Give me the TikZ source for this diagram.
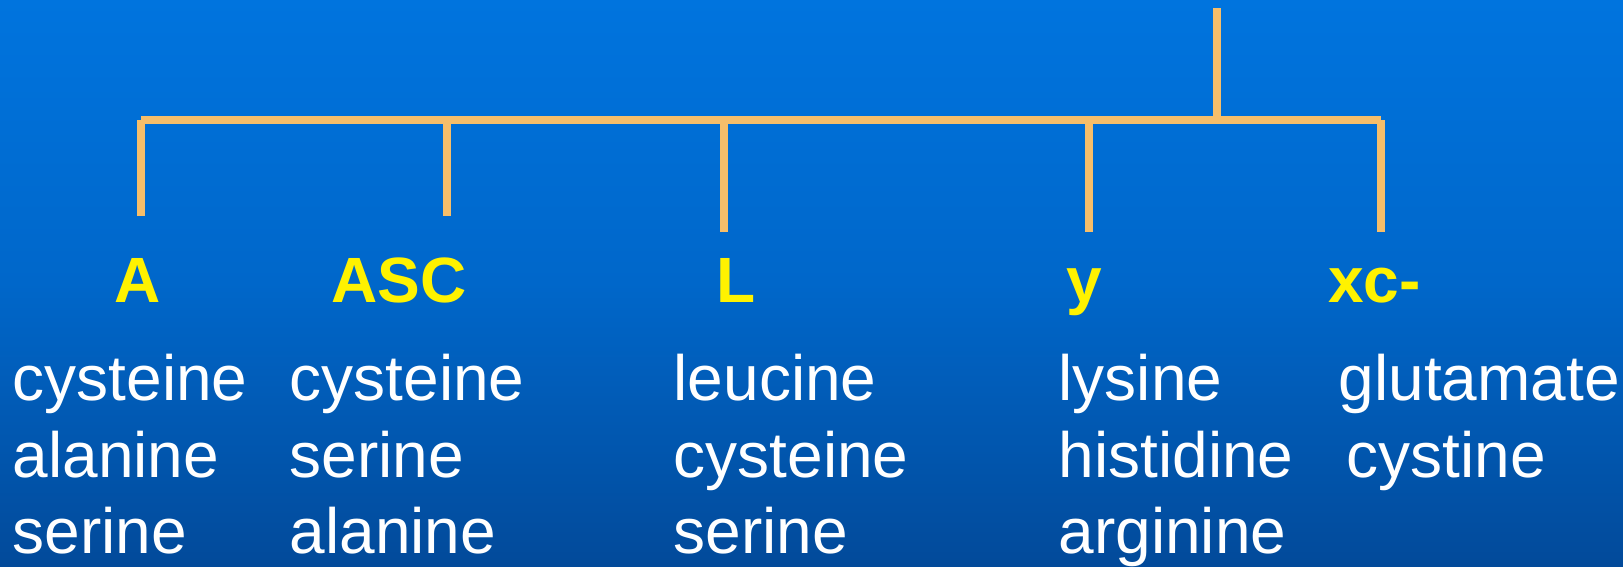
\documentclass[tikz,border=0pt]{standalone}
\usepackage{fontspec}
\setmainfont{Liberation Sans}
\usetikzlibrary{positioning}

\definecolor{bartan}{RGB}{246,190,106}
\definecolor{bgtop}{RGB}{0,116,222}
\definecolor{bgmid}{RGB}{0,103,202}
\definecolor{bgbot}{RGB}{2,74,154}
\pgfdeclareverticalshading{slidebg}{100bp}{color(0bp)=(bgbot); color(25bp)=(bgbot); color(50bp)=(bgmid); color(75bp)=(bgtop); color(100bp)=(bgtop)}

\begin{document}
\begin{tikzpicture}[x=1pt,y=-1pt,
    bar/.style={draw=bartan, line width=8pt},
    family/.style={font=\fontsize{64}{64}\selectfont\bfseries, text=yellow, inner sep=0pt, anchor=base west},
    acid/.style={font=\fontsize{64}{64}\selectfont, text=white, inner sep=0pt, anchor=base west}]
    \shade[shading=slidebg] (0,0) rectangle (1623,566);
    \useasboundingbox (0,0) rectangle (1623,566);

    % tree
    \coordinate (top) at (1217,8);
    \coordinate (hub) at (1217,120);
    \coordinate (barL) at (141,120);
    \coordinate (barR) at (1381,120);
    \coordinate (ta) at (141,216);
    \coordinate (tasc) at (447,216);
    \coordinate (tl) at (724,232);
    \coordinate (ty) at (1089,232);
    \coordinate (txc) at (1381,232);

    \draw[bar] (barL) -- (barR);
    \draw[bar] (top) -- (hub);
    \foreach \t in {ta,tasc,tl,ty,txc}
        \draw[bar] (\t |- hub) -- (\t);

    % transporter systems
    \node[family] (fa) at (114,302) {A};
    \node[family] (fasc) at (331,302) {ASC};
    \node[family] (fl) at (716,302) {L};
    \node[family] (fy) at (1066,302) {y};
    \node[family] (fxc) at (1328,302) {xc-};

    % substrates
    \node[acid] (a1) at (12.5,400) {cysteine};
    \node[acid] (a2) at (12.5,477) {alanine};
    \node[acid] (a3) at (12.5,553) {serine};

    \node[acid] (asc1) at (289.5,400) {cysteine};
    \node[acid] (asc2) at (289.5,477) {serine};
    \node[acid] (asc3) at (289.5,553) {alanine};

    \node[acid] (l1) at (673.5,400) {leucine};
    \node[acid] (l2) at (673.5,477) {cysteine};
    \node[acid] (l3) at (673.5,553) {serine};

    \node[acid] (y1) at (1058.5,400) {lysine};
    \node[acid] (y2) at (1058.5,477) {histidine};
    \node[acid] (y3) at (1058.5,553) {arginine};

    \node[acid] (xc1) at (1338.5,400) {glutamate};
    \node[acid] (xc2) at (1346.5,477) {cystine};
\end{tikzpicture}
\end{document}
